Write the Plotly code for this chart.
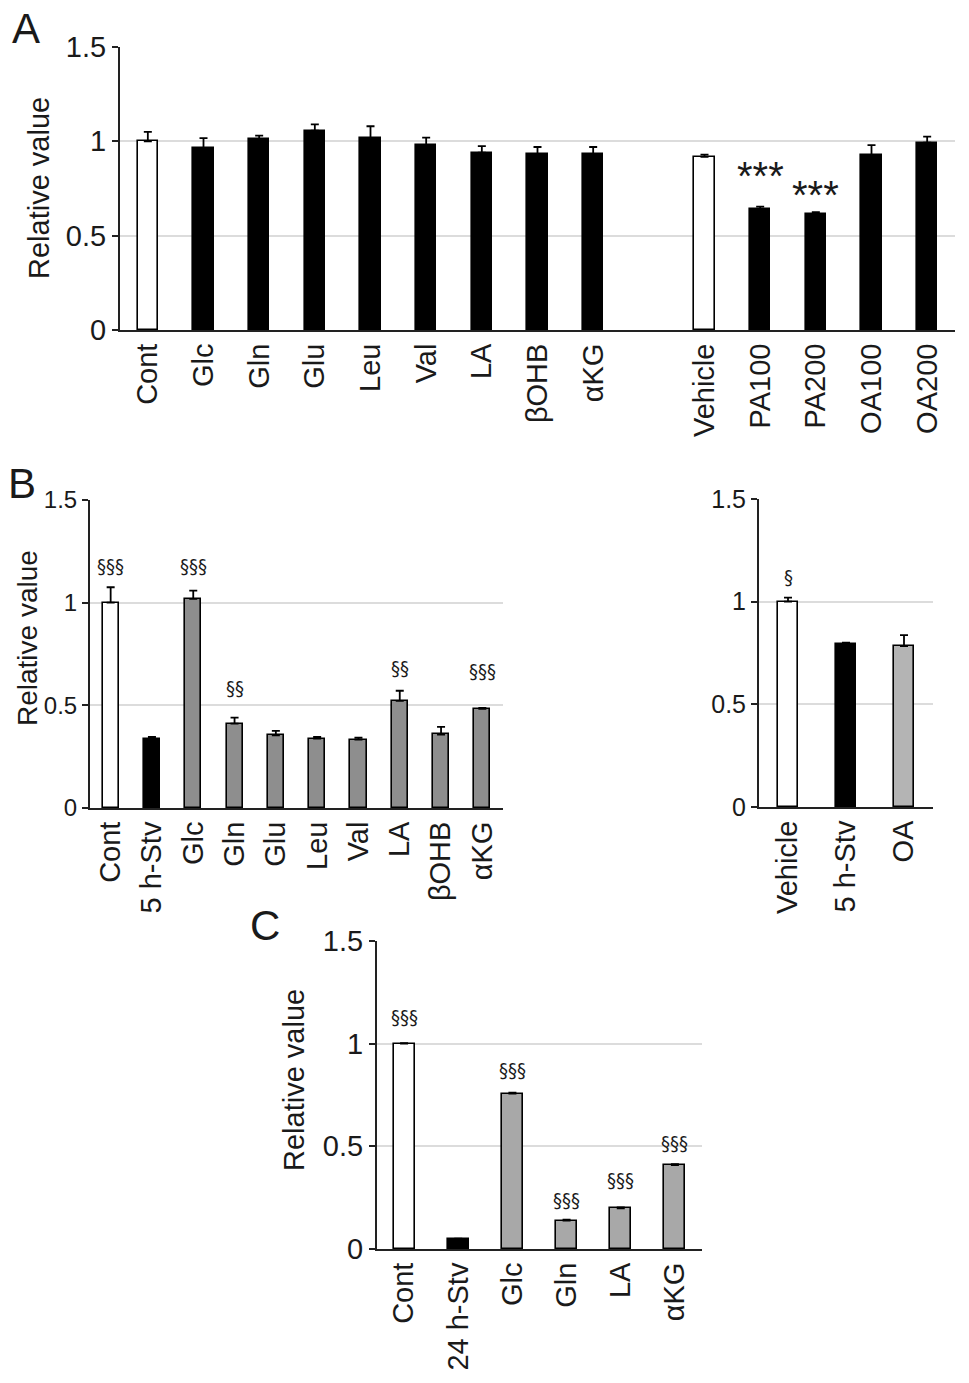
import plotly.graph_objects as go

# ---- panel A ----
a_left_labels = ["Cont", "Glc", "Gln", "Glu", "Leu", "Val", "LA", "βOHB", "αKG"]
a_left_values = [1.00, 0.965, 1.012, 1.056, 1.016, 0.98, 0.94, 0.933, 0.933]
a_left_err = [0.05, 0.052, 0.018, 0.034, 0.064, 0.04, 0.035, 0.037, 0.037]
a_right_labels = ["Vehicle", "PA100", "PA200", "OA100", "OA200"]
a_right_values = [0.918, 0.64, 0.613, 0.927, 0.993]
a_right_err = [0.012, 0.014, 0.012, 0.053, 0.032]
a_sig_labels = ["PA100", "PA200"]
a_sig_text = ["***", "***"]
a_sig_y = [0.815, 0.715]

# ---- panel B ----
b_left_labels = ["Cont", "5 h-Stv", "Glc", "Gln", "Glu", "Leu", "Val", "LA", "βOHB", "αKG"]
b_left_values = [1.00, 0.338, 1.018, 0.411, 0.354, 0.338, 0.333, 0.522, 0.358, 0.483]
b_left_err = [0.075, 0.008, 0.041, 0.029, 0.022, 0.008, 0.01, 0.049, 0.037, 0.005]
b_left_sig_labels = ["Cont", "Glc", "Gln", "LA", "αKG"]
b_left_sig_text = ["§§§", "§§§", "§§", "§§", "§§§"]
b_left_sig_y = [1.18, 1.18, 0.585, 0.68, 0.667]

b_right_labels = ["Vehicle", "5 h-Stv", "OA"]
b_right_values = [1.00, 0.795, 0.784]
b_right_err = [0.02, 0.005, 0.053]
b_right_sig_labels = ["Vehicle"]
b_right_sig_text = ["§"]
b_right_sig_y = [1.12]

# ---- panel C ----
c_labels = ["Cont", "24 h-Stv", "Glc", "Gln", "LA", "αKG"]
c_values = [1.00, 0.047, 0.757, 0.138, 0.198, 0.408]
c_err = [0.003, 0.004, 0.005, 0.005, 0.005, 0.005]
c_sig_labels = ["Cont", "Glc", "Gln", "LA", "αKG"]
c_sig_text = ["§§§", "§§§", "§§§", "§§§", "§§§"]
c_sig_y = [1.13, 0.87, 0.238, 0.335, 0.514]

y_ticks = [0, 0.5, 1, 1.5]
y_ticktext = ["0", "0.5", "1", "1.5"]
y_title = "Relative value"

W, H = 969, 1383
FONT = "Liberation Sans, Arial, sans-serif"
NARROW = "DejaVu Sans Condensed, Liberation Sans Narrow, sans-serif"
INK = "#1a1a1a"


def px_x(a, b):
    return [a / W, b / W]


def px_y(bottom, top):
    return [1 - bottom / H, 1 - top / H]


def suffix(n):
    return "" if n == 1 else str(n)


fig = go.Figure()


def add_bars(n, labels, values, err, colors, width):
    fig.add_trace(go.Bar(
        x=labels, y=values, width=width,
        marker=dict(color=colors, line=dict(color="black", width=1.6)),
        error_y=dict(type="data", symmetric=False, array=err,
                     arrayminus=[0] * len(err), color="black",
                     thickness=1.8, width=4),
        xaxis="x" + suffix(n), yaxis="y" + suffix(n),
        showlegend=False, hoverinfo="skip"))


def add_sig(n, labels, texts, ys, size, family):
    for lab, t, yv in zip(labels, texts, ys):
        fig.add_annotation(
            x=lab, y=yv, text=t, showarrow=False,
            xref="x" + suffix(n), yref="y" + suffix(n),
            font=dict(family=family, size=size, color=INK),
            xanchor="center", yanchor="middle")


def add_paper_text(text, cx, cy, size, angle=0):
    # cx, cy in page pixels from the top-left corner
    fig.add_annotation(x=cx / W, y=1 - cy / H, xref="paper", yref="paper",
                       text=text, showarrow=False, textangle=angle,
                       font=dict(family=FONT, size=size, color=INK),
                       xanchor="center", yanchor="middle")


def axis_pair(n, cats, xdom, ydom, ytick_size=29):
    xa = dict(domain=xdom, anchor="y" + suffix(n), automargin=False,
              type="category", categoryorder="array", categoryarray=cats,
              range=[-0.5, len(cats) - 0.5], showline=True,
              linecolor="#222", linewidth=2, ticks="", tickangle=-90,
              ticklabelstandoff=0,
              tickfont=dict(family=FONT, size=29, color=INK),
              showgrid=False, zeroline=False, fixedrange=True)
    ya = dict(domain=ydom, anchor="x" + suffix(n), automargin=False,
              range=[0, 1.5], tickvals=y_ticks, ticktext=y_ticktext,
              showline=True, linecolor="#222", linewidth=2,
              ticks="outside", ticklen=6, tickwidth=1.5, tickcolor="#222",
              tickfont=dict(family=FONT, size=ytick_size, color=INK),
              showgrid=True, gridcolor="#dcdcdc", gridwidth=1.5,
              zeroline=False, fixedrange=True)
    return xa, ya


# panel A: two groups with an empty slot between them
a_cats = a_left_labels + [" "] + a_right_labels
xa1, ya1 = axis_pair(1, a_cats, px_x(120, 955), px_y(330, 47))
add_bars(1, a_left_labels, a_left_values, a_left_err,
         ["white"] + ["black"] * (len(a_left_labels) - 1), 0.36)
add_bars(1, a_right_labels, a_right_values, a_right_err,
         ["white"] + ["black"] * (len(a_right_labels) - 1), 0.36)
add_sig(1, a_sig_labels, a_sig_text, a_sig_y, 40, FONT)

# panel B left
xa2, ya2 = axis_pair(2, b_left_labels, px_x(90, 503), px_y(808, 500), 24)
add_bars(2, b_left_labels, b_left_values, b_left_err,
         ["white", "black"] + ["#8e8e8e"] * (len(b_left_labels) - 2), 0.39)
add_sig(2, b_left_sig_labels, b_left_sig_text, b_left_sig_y, 20, NARROW)

# panel B right
xa3, ya3 = axis_pair(3, b_right_labels, px_x(759, 933), px_y(807, 499), 25)
add_bars(3, b_right_labels, b_right_values, b_right_err,
         ["white", "black", "#b4b4b4"], 0.36)
add_sig(3, b_right_sig_labels, b_right_sig_text, b_right_sig_y, 20, NARROW)

# panel C
xa4, ya4 = axis_pair(4, c_labels, px_x(377, 702), px_y(1249, 941))
add_bars(4, c_labels, c_values, c_err,
         ["white", "black"] + ["#a8a8a8"] * (len(c_labels) - 2), 0.39)
add_sig(4, c_sig_labels, c_sig_text, c_sig_y, 20, NARROW)

# y titles (placed by hand: axis titles get clamped to the zero margin)
add_paper_text(y_title, 39, 188, 29, -90)
add_paper_text(y_title, 27, 638, 28, -90)
add_paper_text(y_title, 294, 1080, 29, -90)

# panel letters
add_paper_text("A", 26, 28, 42)
add_paper_text("B", 22, 483, 42)
add_paper_text("C", 265, 926, 42)

fig.update_layout(
    width=W, height=H,
    margin=dict(l=0, r=0, t=0, b=0, autoexpand=False),
    paper_bgcolor="white", plot_bgcolor="white",
    bargap=0,
    xaxis=xa1, yaxis=ya1,
    xaxis2=xa2, yaxis2=ya2,
    xaxis3=xa3, yaxis3=ya3,
    xaxis4=xa4, yaxis4=ya4,
)

# browser default body margin would push the figure 8px off the page
fig.write_html("out.html", config={"displayModeBar": False},
               post_script="document.body.style.margin = '0';")
